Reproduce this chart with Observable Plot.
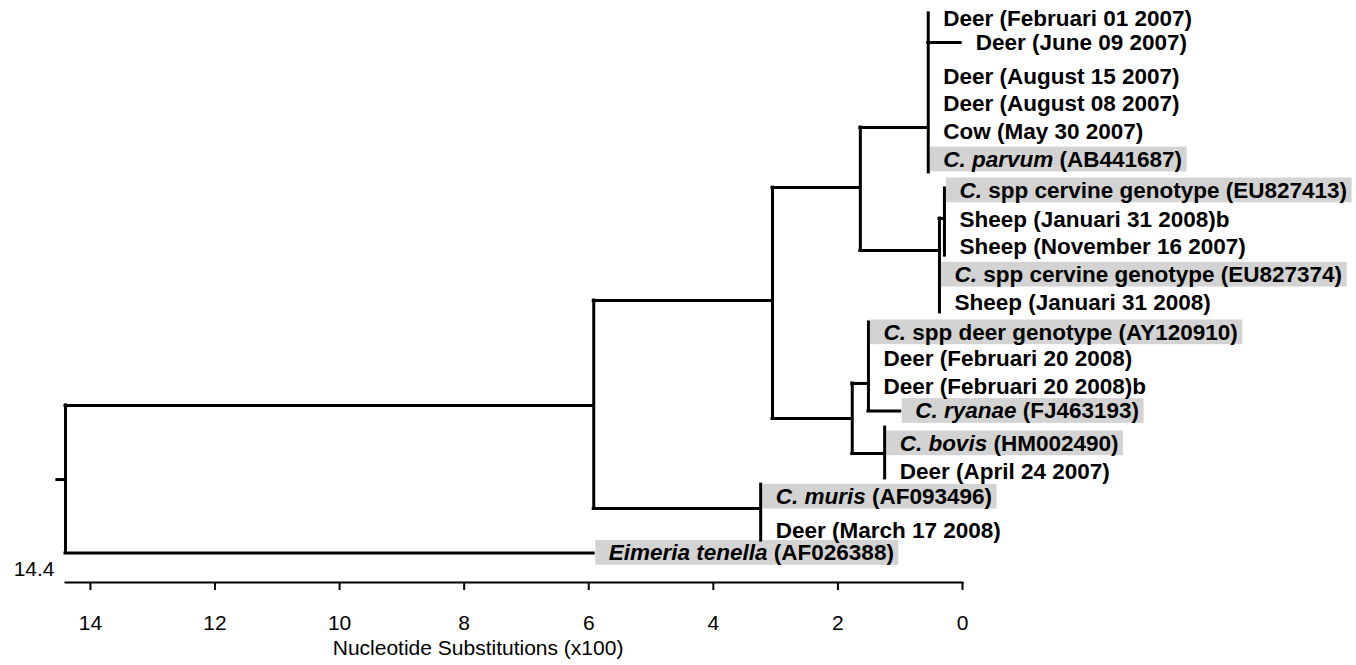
<!DOCTYPE html>
<html>
<head>
<meta charset="utf-8">
<script src="https://cdn.jsdelivr.net/npm/d3@7"></script>
<script src="https://cdn.jsdelivr.net/npm/@observablehq/plot@0.6"></script>
<style>
  body { margin: 0; background: #fff; }
</style>
</head>
<body>
<div id="chart"></div>
<script>
// ---- Tree nodes (x = nucleotide substitutions x100, row = vertical position in leaf rows) ----
const nodeId     = ["stub", "root", "A",  "Eimeria", "M",   "B",   "C",  "P",   "June", "V",   "V1",  "D",   "E",   "ryanae", "F"];
const nodeParent = [null,   "stub", "root","root",   "A",   "A",   "B",  "C",   "P",    "C",   "V",   "B",   "D",   "E",      "D"];
const nodeX      = [14.53,  14.4,   5.92,  5.92,     3.24,  3.05,  1.64, 0.55,  0.03,   0.37,  0.29,  1.77,  1.51,  1.0,      1.25];
const nodeRow    = [16.39,  16.39,  13.75, 19.0,     17.42, 10.02, 6.0,  3.86,  0.84,   8.24,  7.1,   14.22, 12.97, 13.95,    15.46];
const nodeTop    = [null,   13.75,  10.02, null,     16.57, 6.0,   3.86, -0.2,  null,   7.1,   6.03,  12.97, 10.8,  null,     14.54];
const nodeBottom = [null,   19.0,   17.42, null,     18.56, 14.22, 8.24, 5.46,  null,   10.44, 8.42,  15.46, 13.95, null,     16.35];

// ---- Leaves ----
const leafLabel = [
  "Deer (Februari 01 2007)",
  "Deer (June 09 2007)",
  "Deer (August 15 2007)",
  "Deer (August 08 2007)",
  "Cow (May 30 2007)",
  "C. parvum (AB441687)",
  "C. spp cervine genotype (EU827413)",
  "Sheep (Januari 31 2008)b",
  "Sheep (November 16 2007)",
  "C. spp cervine genotype (EU827374)",
  "Sheep (Januari 31 2008)",
  "C. spp deer genotype (AY120910)",
  "Deer (Februari 20 2008)",
  "Deer (Februari 20 2008)b",
  "C. ryanae (FJ463193)",
  "C. bovis (HM002490)",
  "Deer (April 24 2007)",
  "C. muris (AF093496)",
  "Deer (March 17 2008)",
  "Eimeria tenella (AF026388)"
];
const leafItalic = ["", "", "", "", "", "C. parvum", "C.", "", "", "C.", "", "C.", "", "", "C. ryanae", "C. bovis", "", "C. muris", "", "Eimeria tenella"];
const leafRow    = [0, 0.84, 2.05, 3.0, 4.0, 5.0, 6.1, 7.15, 8.1, 9.1, 10.1, 11.15, 12.1, 13.1, 13.95, 15.1, 16.1, 17.0, 18.2, 19.0];
const leafNode   = ["P", "June", "P", "P", "P", "P", "V1", "V1", "V1", "V", "V", "E", "E", "E", "ryanae", "F", "F", "M", "M", "Eimeria"];
const leafShaded = [false, false, false, false, false, true, true, false, false, true, false, true, false, false, true, true, false, true, false, true];

// ---- Axis ----
const xTicks = [14, 12, 10, 8, 6, 4, 2, 0];
const xMax = 14.4;
const axisTitle = "Nucleotide Substitutions (x100)";

// ---- Build tables ----
const nodes = nodeId.map((id, i) => ({id, parent: nodeParent[i], x: nodeX[i], row: nodeRow[i], top: nodeTop[i], bottom: nodeBottom[i]}));
const byId = new Map(nodes.map(n => [n.id, n]));
const horizontals = nodes.filter(n => n.parent).map(n => ({...n, px: byId.get(n.parent).x}));
const verticals = nodes.filter(n => n.top != null);

const FS = 22.5;
const FONT = '"Liberation Sans", Arial, sans-serif';
const ctx = document.createElement("canvas").getContext("2d");
function labelWidth(label, italic) {
  ctx.font = `italic bold ${FS}px ${FONT}`;
  let w = italic ? ctx.measureText(italic).width : 0;
  ctx.font = `bold ${FS}px ${FONT}`;
  w += ctx.measureText(label.slice(italic.length)).width;
  return w;
}

const xDomain = [xMax, 0];
const xRange = [65, 962];
const xPx = d3.scaleLinear().domain(xDomain).range(xRange);
const TEXT_DX = 15;

const leaves = leafLabel.map((label, i) => {
  const x = byId.get(leafNode[i]).x;
  const w = labelWidth(label, leafItalic[i]);
  return {label, italic: leafItalic[i], row: leafRow[i], x, shaded: leafShaded[i],
          xEnd: xPx.invert(xPx(x) + TEXT_DX + w + 5)};
});
const italicByLabel = new Map(leaves.filter(d => d.italic).map(d => [d.label, d.italic]));

const chart = Plot.plot({
  width: 1356,
  height: 665,
  marginLeft: 65,
  marginRight: 394,
  marginTop: 0,
  marginBottom: 83,
  style: {fontFamily: FONT, background: "white", overflow: "visible", color: "black"},
  x: {domain: xDomain, range: xRange},
  y: {domain: [0, 19], range: [18.5, 552.4], axis: null},
  marks: [
    Plot.rect(leaves.filter(d => d.shaded), {
      x1: "x", x2: "xEnd", y1: d => d.row - 0.44, y2: d => d.row + 0.44,
      fill: "#d3d3d3", insetLeft: 2
    }),
    Plot.ruleX(verticals, {x: "x", y1: "top", y2: "bottom", stroke: "black", strokeWidth: 3, strokeLinecap: "square"}),
    Plot.ruleY(horizontals, {y: "row", x1: "px", x2: "x", stroke: "black", strokeWidth: 3, strokeLinecap: "square"}),
    Plot.text(leaves, {
      x: "x", y: "row", text: "label", dx: TEXT_DX, textAnchor: "start",
      fontWeight: "bold", fontSize: FS, fill: "black"
    }),
    Plot.frame({anchor: "bottom", stroke: "black", strokeWidth: 2}),
    Plot.axisX({ticks: xTicks, tickSize: 8, tickPadding: 25, fontSize: 21, strokeWidth: 2, label: null, tickFormat: d => String(d)}),
    Plot.text([xMax], {x: d => d, text: d => d.toFixed(1), frameAnchor: "bottom", textAnchor: "end", dx: -11, dy: -7, fontSize: 21, fill: "black"}),
    Plot.text([axisTitle], {x: 10.11, text: d => d, frameAnchor: "bottom", textAnchor: "start", dy: 72, fontSize: 21, fill: "black"})
  ]
});

// Mixed italic / upright label text as tspans
chart.querySelectorAll("text").forEach(t => {
  const full = t.textContent;
  const italic = italicByLabel.get(full);
  if (!italic) return;
  t.textContent = "";
  const ts = document.createElementNS("http://www.w3.org/2000/svg", "tspan");
  ts.setAttribute("font-style", "italic");
  ts.textContent = italic;
  t.appendChild(ts);
  t.appendChild(document.createTextNode(full.slice(italic.length)));
});

document.getElementById("chart").appendChild(chart);
</script>
</body>
</html>
